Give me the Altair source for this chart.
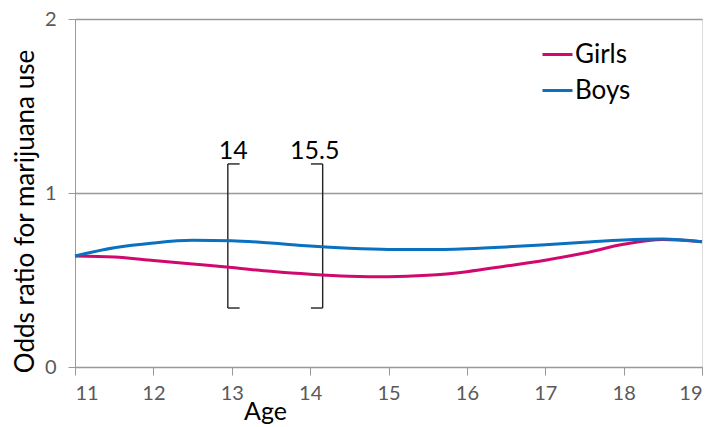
import altair as alt
import pandas as pd

ages = [11, 11.5, 12, 12.5, 13, 13.5, 14, 14.5, 15, 15.5, 16, 16.5, 17, 17.5, 18, 18.5, 19]
girls = [0.638, 0.632, 0.612, 0.592, 0.572, 0.550, 0.533, 0.522, 0.519, 0.527, 0.548, 0.580, 0.614, 0.655, 0.705, 0.733, 0.720]
boys = [0.638, 0.685, 0.713, 0.728, 0.726, 0.712, 0.695, 0.683, 0.676, 0.675, 0.680, 0.690, 0.703, 0.717, 0.730, 0.735, 0.720]

series_names = ["Girls", "Boys"]
series_colors = ["#D1096F", "#0A70C0"]

y_ticks = [0, 1, 2]
x_ticks = [11, 12, 13, 14, 15, 16, 17, 18, 19]

bracket_x = [12.95, 14.16]
bracket_serif_end = [13.10, 14.01]
bracket_low = 0.339
bracket_high = 1.167
bracket_labels = ["14", "15.5"]
bracket_label_x = [13.02, 14.06]
bracket_label_y = 1.195

FONT = "Lato"

rows = []
for a, g, b in zip(ages, girls, boys):
    rows.append({"age": a, "value": g, "series": "Girls"})
    rows.append({"age": a, "value": b, "series": "Boys"})
df = pd.DataFrame(rows)

xscale = alt.Scale(domain=[11, 19], nice=False, zero=False)
yscale = alt.Scale(domain=[0, 2], nice=False)

lines = alt.Chart(df).mark_line(strokeWidth=3, interpolate="monotone").encode(
    x=alt.X("age:Q", scale=xscale,
            axis=alt.Axis(title="Age", values=x_ticks, format=".0f", grid=False,
                          domainColor="#999999", tickColor="#999999", tickSize=8,
                          labelColor="#595959", labelFontSize=20, labelFont=FONT,
                          labelPadding=8, titleFont=FONT, titleFontSize=25,
                          titleFontWeight="normal", titleColor="black",
                          titleX=190, titleY=52, titleBaseline="alphabetic",
                          titleAlign="center")),
    y=alt.Y("value:Q", scale=yscale,
            axis=alt.Axis(title="Odds ratio for marijuana use", values=y_ticks, format=".0f",
                          grid=True, gridColor="#999999", gridWidth=1.3,
                          labelOverlap=False,
                          domainColor="#999999", tickColor="#999999", tickSize=7,
                          labelColor="#595959", labelFontSize=20, labelFont=FONT,
                          labelPadding=12, titleFont=FONT, titleFontSize=26,
                          titleFontWeight="normal", titleColor="black",
                          titleX=-50, titleY=192, titleBaseline="middle",
                          titleAlign="center", titleAngle=270)),
    color=alt.Color("series:N",
                    scale=alt.Scale(domain=series_names, range=series_colors),
                    sort=series_names,
                    legend=alt.Legend(title=None, orient="none", legendX=466, legendY=19,
                                      symbolType="stroke", symbolSize=900,
                                      symbolStrokeWidth=3, labelFontSize=26,
                                      labelFont=FONT, labelColor="black",
                                      labelOffset=1, rowPadding=6)),
)

bdf = pd.DataFrame({"x": bracket_x, "xs": bracket_serif_end,
                    "lo": [bracket_low] * 2, "hi": [bracket_high] * 2})
vrules = alt.Chart(bdf).mark_rule(color="#222222", strokeWidth=1.4).encode(
    x="x:Q", y="lo:Q", y2="hi:Q")
serif_lo = alt.Chart(bdf).mark_rule(color="#222222", strokeWidth=1.4).encode(
    x="x:Q", x2="xs:Q", y="lo:Q")
serif_hi = alt.Chart(bdf).mark_rule(color="#222222", strokeWidth=1.4).encode(
    x="x:Q", x2="xs:Q", y="hi:Q")

ldf = pd.DataFrame({"x": bracket_label_x, "y": [bracket_label_y] * 2, "t": bracket_labels})
labels = alt.Chart(ldf).mark_text(font=FONT, fontSize=25, color="black",
                                  baseline="alphabetic", align="center").encode(
    x="x:Q", y="y:Q", text="t:N")

chart = alt.layer(vrules, serif_lo, serif_hi, labels, lines).properties(
    width=627, height=348,
    autosize=alt.AutoSizeParams(type="none"),
    padding={"left": 67, "top": 11, "right": 4, "bottom": 60},
).configure_view(stroke="#999999", strokeWidth=1.3).configure(background="white")

chart.save("out.html", embed_options={"renderer": "svg", "actions": False})
